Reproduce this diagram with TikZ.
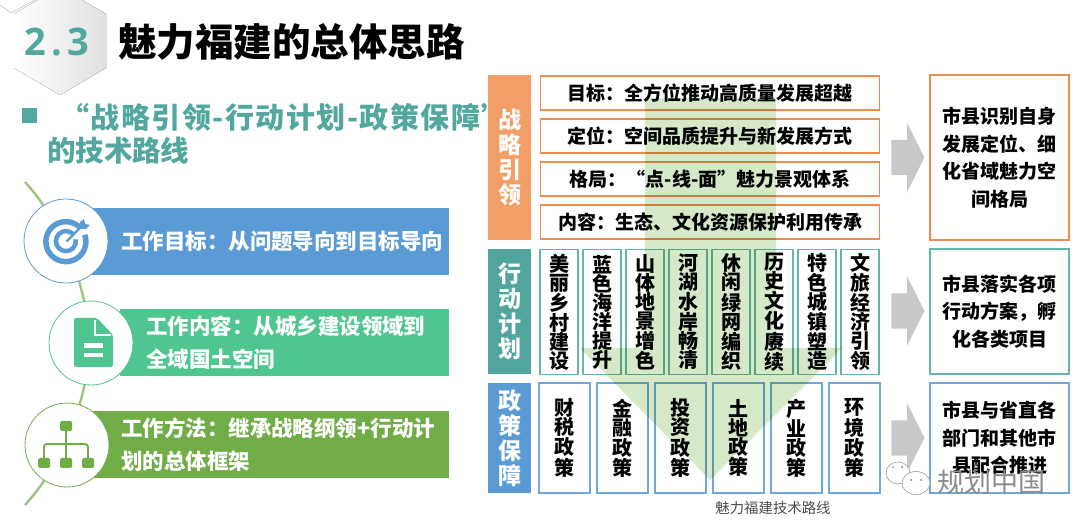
\documentclass[tikz,border=0pt]{standalone}
\usepackage{fontspec}
\usepackage{xcolor}
\usepackage{tikz}
\usetikzlibrary{arrows.meta,positioning,shapes.arrows}
\setmainfont{Noto Sans CJK SC}
\newfontfamily\numfont[LetterSpace=14]{Open Sans}
\newfontfamily\widecjk[LetterSpace=5.2]{Noto Sans CJK SC}
\definecolor{tealmain}{HTML}{52A89E}
\definecolor{orangeline}{HTML}{F08C4E}
\definecolor{orangefill}{HTML}{F19F66}
\definecolor{tealline}{HTML}{66B5AB}
\definecolor{tealfill}{HTML}{50A69C}
\definecolor{blueline}{HTML}{6FA8DC}
\definecolor{bluefill}{HTML}{5B9BD5}
\definecolor{mintfill}{HTML}{4FC68F}
\definecolor{greenfill}{HTML}{70AD47}
\definecolor{arrowgray}{HTML}{C8C8C8}
\definecolor{routegreen}{HTML}{D5E8C8}
\newcommand{\pxfont}[2]{\fontsize{#1}{#2}\selectfont}

\begin{document}
\begin{tikzpicture}[
  x=1pt,y=-1pt,
  every node/.style={inner sep=0pt,outer sep=0pt},
  sidelabel/.style={minimum width=43pt,align=center,text=white,font=\pxfont{23}{25}\bfseries},
  goalbox/.style={draw=orangeline,line width=1.6pt,fill=white,minimum width=339pt,
                  minimum height=34pt,font=\pxfont{19}{19}\bfseries},
  actionbox/.style={draw=tealline,line width=1.6pt,fill=white,minimum width=38pt,minimum height=125pt,
                    align=center,font=\pxfont{20}{19}\bfseries,execute at begin node={\rule{0pt}{24pt}}},
  policybox/.style={draw=blueline,line width=1.6pt,fill=white,minimum width=51pt,minimum height=110pt,
                    align=center,font=\pxfont{20}{19}\bfseries,execute at begin node={\rule{0pt}{26pt}}},
  resultbox/.style={line width=1.6pt,fill=white,minimum width=139pt,align=center,
                    font=\pxfont{19}{27.5}\bfseries,execute at begin node={\rule{0pt}{22pt}}},
  workbar/.style={minimum height=67pt,anchor=west,align=left,text=white,
                  font=\pxfont{21.5}{33}\bfseries},
  workring/.style={circle,fill=white,minimum size=84pt,line width=0.8pt},
  iconblock/.style={draw=none,fill=greenfill,rounded corners=1.5pt,minimum width=12pt,minimum height=10pt},
  grayarrow/.style={single arrow,fill=arrowgray,inner ysep=17.5pt,inner xsep=0pt,minimum height=33pt,
                    single arrow head extend=17pt,single arrow tip angle=127},
]
  \useasboundingbox (0,0) rectangle (1080,529);

  % header
  \fill[left color=white,right color=black!12] (60,-13) -- (106,14) -- (106,68) -- (60,95) -- (14,68) -- (14,14) -- cycle;
  \draw[black!20,line width=0.8pt] (0,5) -- (11,13) -- (35,0);
  \node[text=tealmain,font=\numfont\bfseries\pxfont{38}{38}] (secnum) at (57,42) {2.3};
  \node[anchor=west,font=\pxfont{38.5}{38.5}\bfseries] (headline) at (118,42) {魅力福建的总体思路};
  \node[fill=tealmain,minimum size=15pt] (bullet) at (29.5,115.5) {};
  \node[anchor=west,text=tealmain,font=\widecjk\pxfont{29}{29}\bfseries] (routeone) at (60,117) {“战略引领-行动计划-政策保障”};
  \node[anchor=west,text=tealmain,font=\pxfont{28.5}{28.5}\bfseries] (routetwo) at (47,151) {的技术路线};

  % left column
  \coordinate (threadtop) at (25,182);
  \coordinate (threadmid) at (89,344);
  \coordinate (threadend) at (25,505);
  \draw[greenfill!70,line width=2.4pt] (threadtop) .. controls (62,222) and (89,290) .. (threadmid)
    .. controls (89,398) and (62,465) .. (threadend);
  \node[workbar,fill=bluefill,text width=359pt] (aimbar) at (90,241.5) {\hspace*{31pt}工作目标：从问题导向到目标导向};
  \node[workbar,fill=mintfill,text width=329pt] (scopebar) at (120,343) {\hspace*{26pt}工作内容：从城乡建设领域到\\\hspace*{26pt}全域国土空间};
  \node[workbar,fill=greenfill,text width=359pt] (methodbar) at (90,445) {\hspace*{31pt}工作方法：继承战略纲领+行动计\\\hspace*{31pt}划的总体框架};
  \node[workring,draw=bluefill] (aimring) at (66,241) {};
  \node[workring,draw=mintfill] (scopering) at (91,343) {};
  \node[workring,draw=greenfill] (methodring) at (67,445) {};

  % target icon
  \draw[bluefill,line width=5.5pt] (80.5,228) arc[start angle=-43,end angle=-380,radius=20];
  \draw[bluefill,line width=4.5pt] (73,234) arc[start angle=-45,end angle=-370,radius=10];
  \draw[bluefill,line width=2.2pt] (66.5,241.5) -- (82,226);
  \fill[bluefill] (80,222) -- (84,219) -- (85,224) -- (90,225) -- (86,229) -- (81,229) -- cycle;

  % document icon
  \fill[mintfill,rounded corners=2pt] (74,318) -- (97,318) -- (113,335) -- (113,367) -- (74,367) -- cycle;
  \draw[white,line width=1.4pt] (95,320) -- (95,335) -- (111,335);
  \fill[white] (84,343) rectangle (103,348);
  \fill[white] (84,353) rectangle (103,357);

  % tree icon
  \node[iconblock] (treetop) at (66,426) {};
  \node[iconblock] (treeleft) at (44,463) {};
  \node[iconblock] (treemid) at (66,463) {};
  \node[iconblock] (treeright) at (88,463) {};
  \draw[greenfill,line width=1.8pt] (treetop) -- (treemid);
  \draw[greenfill,line width=1.8pt,rounded corners=3pt] (treeleft.north) -- ++(0,-14) -| (treeright.north);

  % strategy rows
  \node[sidelabel,fill=orangefill,minimum height=165pt] (stratlabel) at (509.5,157.5) {战\\略\\引\\领};
  \node[goalbox] (goalrow) at (710,93) {目标：全方位推动高质量发展超越};
  \node[goalbox,below=9pt of goalrow] (siterow) {定位：空间品质提升与新发展方式};
  \node[goalbox,below=9pt of siterow] (layoutrow) {格局：“点-线-面”魅力景观体系};
  \node[goalbox,below=9pt of layoutrow] (contentrow) {内容：生态、文化资源保护利用传承};

  % action columns
  \node[sidelabel,fill=tealfill,minimum height=125pt] (actlabel) at (509.5,311.5) {行\\动\\计\\划};
  \node[actionbox] (village) at (559,312) {美\\丽\\乡\\村\\建\\设};
  \node[actionbox,right=5pt of village] (ocean) {蓝\\色\\海\\洋\\提\\升};
  \node[actionbox,right=5pt of ocean] (mountain) {山\\体\\地\\景\\增\\色};
  \node[actionbox,right=5pt of mountain] (river) {河\\湖\\水\\岸\\畅\\清};
  \node[actionbox,right=5pt of river] (leisure) {休\\闲\\绿\\网\\编\\织};
  \node[actionbox,right=5pt of leisure] (history) {历\\史\\文\\化\\赓\\续};
  \node[actionbox,right=5pt of history] (townscape) {特\\色\\城\\镇\\塑\\造};
  \node[actionbox,right=5pt of townscape] (tourism) {文\\旅\\经\\济\\引\\领};

  % policy columns
  \node[sidelabel,fill=bluefill,minimum height=110pt] (policylabel) at (509.5,438) {政\\策\\保\\障};
  \node[policybox] (finance) at (564.5,438) {财\\税\\政\\策};
  \node[policybox,right=7pt of finance] (banking) {金\\融\\政\\策};
  \node[policybox,right=7pt of banking] (invest) {投\\资\\政\\策};
  \node[policybox,right=7pt of invest] (land) {土\\地\\政\\策};
  \node[policybox,right=7pt of land] (industry) {产\\业\\政\\策};
  \node[policybox,right=7pt of industry] (ecology) {环\\境\\政\\策};

  % green route arrow
  \fill[routegreen,blend mode=multiply] (645,98) -- (776,98) -- (776,348) -- (842,348) -- (710,480)
    -- (580,348) -- (645,348) -- cycle;
  \node[text=black!70,font=\pxfont{14.4}{14.4}] (caption) at (773,508) {魅力福建技术路线};

  % right column
  \node[resultbox,draw=orangeline,minimum height=165pt] (cityone) at (999.5,157.5) {市县识别自身\\发展定位、细\\化省域魅力空\\间格局};
  \node[resultbox,draw=tealline,minimum height=125pt] (citytwo) at (999.5,311.5) {市县落实各项\\行动方案，孵\\化各类项目};
  \node[resultbox,draw=blueline,minimum height=110pt] (citythree) at (999.5,438) {市县与省直各\\部门和其他市\\县配合推进};

  \node[grayarrow] (flowone) at (903.5,157.5) {};
  \node[grayarrow] (flowtwo) at (903.5,311) {};
  \node[grayarrow] (flowthree) at (903.5,438) {};

  % watermark
  \draw[black!40,fill=white,line width=0.6pt] (898,473) ellipse[x radius=12,y radius=11];
  \draw[black!40,fill=white,line width=0.6pt] (916,483) ellipse[x radius=14,y radius=11.5];
  \fill[black!50] (893,467) circle[radius=1] (902,467) circle[radius=1] (911,480) circle[radius=1] (921,480) circle[radius=1];
  \node[text=black!45,font=\pxfont{27}{27}] (mark) at (991,482) {规划中国};
\end{tikzpicture}
\end{document}
